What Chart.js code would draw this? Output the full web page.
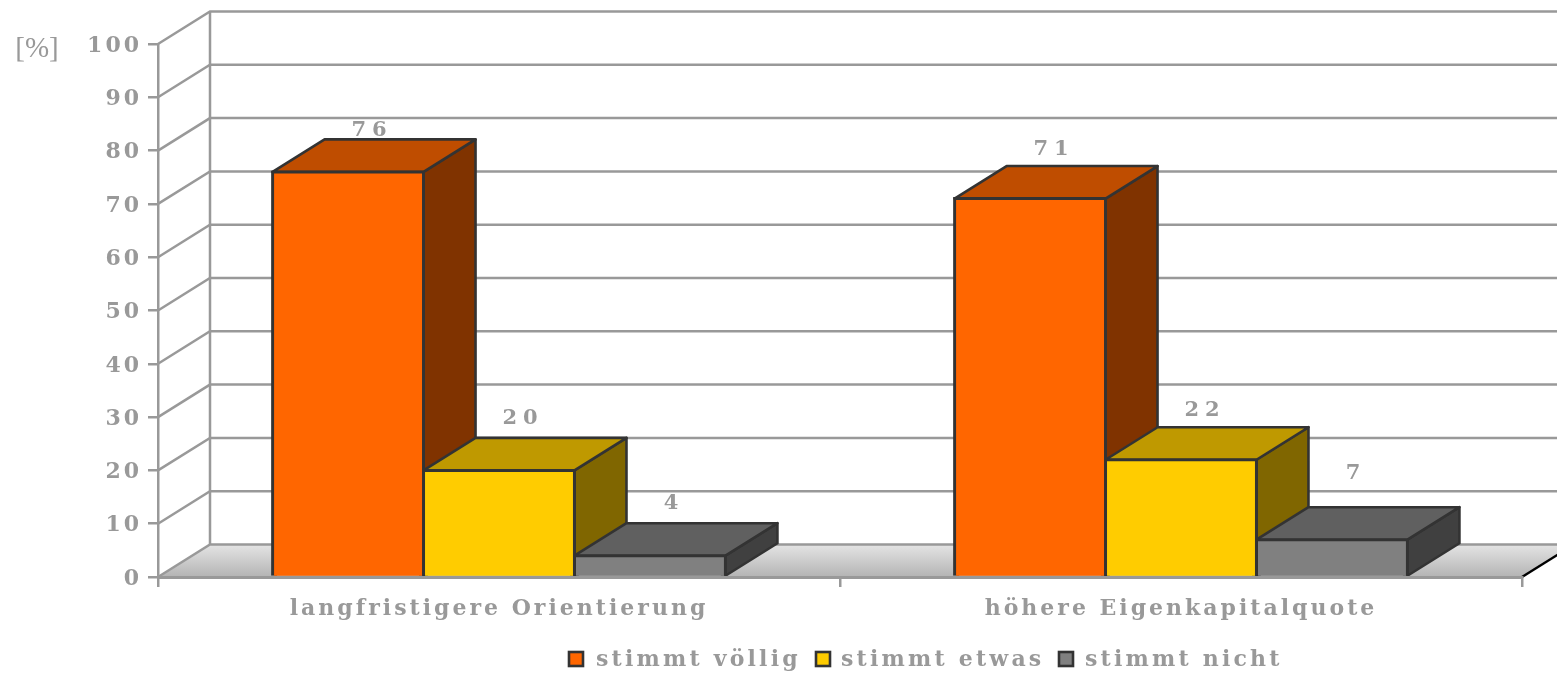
<!DOCTYPE html>
<html>
<head>
<meta charset="utf-8">
<style>
  html, body { margin: 0; padding: 0; background: #fff; overflow: hidden; }
  canvas { display: block; }
</style>
<script src="https://cdn.jsdelivr.net/npm/chart.js@4/dist/chart.umd.min.js"></script>
</head>
<body>
<canvas id="chart" width="1557" height="676"></canvas>
<script>
const categories = ["langfristigere Orientierung", "höhere Eigenkapitalquote"];
const seriesNames = ["stimmt völlig", "stimmt etwas", "stimmt nicht"];
const voellig = [76, 71];
const etwas = [20, 22];
const nicht = [4, 7];
const yTicks = [0, 10, 20, 30, 40, 50, 60, 70, 80, 90, 100];

const frontColors = ["#ff6600", "#ffcc00", "#808080"];
const topColors = ["#bf4d00", "#bf9900", "#606060"];
const sideColors = ["#803300", "#806600", "#404040"];

const GREY = "#999999";
const EDGE = "#333333";
const DEPTH_X = 52;
const DEPTH_Y = 32.5;
// how far above the bar the reference puts each value label, [series][category]
const labelLift = [[41, 49], [52, 49], [52, 66]];

function poly(ctx, pts, fill, stroke) {
  ctx.beginPath();
  pts.forEach((p, i) => i ? ctx.lineTo(p[0], p[1]) : ctx.moveTo(p[0], p[1]));
  ctx.closePath();
  if (fill) { ctx.fillStyle = fill; ctx.fill(); }
  if (stroke) { ctx.strokeStyle = stroke; ctx.lineWidth = 2.6; ctx.stroke(); }
}

const wallsPlugin = {
  id: "walls",
  beforeDraw(chart) {
    const ctx = chart.ctx;
    const { left, right, bottom } = chart.chartArea;
    const yScale = chart.scales.y;
    ctx.save();

    // floor
    const grad = ctx.createLinearGradient(0, bottom - DEPTH_Y, 0, bottom);
    grad.addColorStop(0, "#e4e4e4");
    grad.addColorStop(1, "#b4b4b4");
    poly(ctx, [[left, bottom], [left + DEPTH_X, bottom - DEPTH_Y], [right + DEPTH_X, bottom - DEPTH_Y], [right, bottom]], grad);

    // back wall and side wall lines
    ctx.strokeStyle = GREY;
    ctx.lineWidth = 2.5;
    yTicks.forEach(v => {
      const y = yScale.getPixelForValue(v);
      ctx.beginPath();
      ctx.moveTo(left, y);
      ctx.lineTo(left + DEPTH_X, y - DEPTH_Y);
      ctx.lineTo(chart.width + DEPTH_X, y - DEPTH_Y);
      ctx.stroke();
    });
    ctx.beginPath();
    ctx.moveTo(left + DEPTH_X, yScale.getPixelForValue(100) - DEPTH_Y);
    ctx.lineTo(left + DEPTH_X, bottom - DEPTH_Y);
    ctx.stroke();

    // right edge of the floor is black in the original
    ctx.strokeStyle = "#000000";
    ctx.beginPath();
    ctx.moveTo(right, bottom);
    ctx.lineTo(right + DEPTH_X, bottom - DEPTH_Y);
    ctx.stroke();
    ctx.restore();

    ctx.letterSpacing = "3px";
  },
  beforeDatasetsDraw(chart) {
    // side and top faces, left to right so that the next bar covers the one before
    const ctx = chart.ctx;
    ctx.save();
    ctx.lineJoin = "round";
    categories.forEach((c, j) => {
      chart.data.datasets.forEach((ds, i) => {
        const bar = chart.getDatasetMeta(i).data[j];
        const l = bar.x - bar.width / 2;
        const r = bar.x + bar.width / 2;
        poly(ctx, [[r, bar.y], [r + DEPTH_X, bar.y - DEPTH_Y], [r + DEPTH_X, bar.base - DEPTH_Y], [r, bar.base]], sideColors[i], EDGE);
        poly(ctx, [[l, bar.y], [l + DEPTH_X, bar.y - DEPTH_Y], [r + DEPTH_X, bar.y - DEPTH_Y], [r, bar.y]], topColors[i], EDGE);
      });
    });
    ctx.restore();
  },
  afterDatasetsDraw(chart) {
    const ctx = chart.ctx;
    ctx.save();
    ctx.fillStyle = GREY;
    ctx.textAlign = "center";
    ctx.textBaseline = "middle";
    ctx.font = 'bold 21px "DejaVu Serif"';
    ctx.letterSpacing = "6px";
    chart.data.datasets.forEach((ds, i) => {
      chart.getDatasetMeta(i).data.forEach((bar, j) => {
        ctx.fillText(ds.data[j], bar.x + 24, bar.y - labelLift[i][j]);
      });
    });

    // axis unit
    ctx.letterSpacing = "0px";
    ctx.font = '29px "Liberation Serif"';
    ctx.fillText("[%]", 37, 49);

    // legend
    ctx.textAlign = "left";
    ctx.font = 'bold 22px "DejaVu Serif"';
    ctx.letterSpacing = "3.2px";
    const swatchX = [569, 816, 1059];
    const textX = [596, 841, 1085];
    chart.data.datasets.forEach((ds, i) => {
      ctx.fillStyle = frontColors[i];
      ctx.strokeStyle = EDGE;
      ctx.lineWidth = 2.6;
      ctx.fillRect(swatchX[i], 652, 14, 14);
      ctx.strokeRect(swatchX[i], 652, 14, 14);
      ctx.fillStyle = GREY;
      ctx.fillText(ds.label, textX[i], 660);
    });
    ctx.restore();
  }
};

new Chart(document.getElementById("chart"), {
  type: "bar",
  data: {
    labels: categories,
    datasets: [
      { label: seriesNames[0], data: voellig, backgroundColor: frontColors[0] },
      { label: seriesNames[1], data: etwas, backgroundColor: frontColors[1] },
      { label: seriesNames[2], data: nicht, backgroundColor: frontColors[2] }
    ]
  },
  options: {
    responsive: false,
    animation: false,
    layout: { padding: { top: 44, right: 35, left: 0, bottom: 0 } },
    datasets: {
      bar: { categoryPercentage: 0.664, barPercentage: 1, borderColor: EDGE, borderWidth: 3, inflateAmount: 1.5 }
    },
    plugins: {
      legend: { display: false },
      tooltip: { enabled: false }
    },
    scales: {
      x: {
        afterFit: s => { s.height = 99; },
        grid: { drawOnChartArea: false, color: GREY, lineWidth: 2.5, tickLength: 10 },
        border: { color: GREY, width: 3, z: 1 },
        ticks: {
          color: GREY,
          padding: 9,
          maxRotation: 0,
          autoSkip: false,
          font: { family: '"DejaVu Serif"', size: 22, weight: "bold" }
        }
      },
      y: {
        min: 0,
        max: 100,
        afterFit: s => { s.width = 158; },
        grid: { drawOnChartArea: false, color: GREY, lineWidth: 2.5, tickLength: 10 },
        border: { color: GREY, width: 2.5 },
        ticks: {
          stepSize: 10,
          color: GREY,
          padding: 6,
          labelOffset: 2,
          font: { family: '"DejaVu Serif"', size: 22, weight: "bold" }
        }
      }
    }
  },
  plugins: [wallsPlugin]
});
</script>
</body>
</html>
